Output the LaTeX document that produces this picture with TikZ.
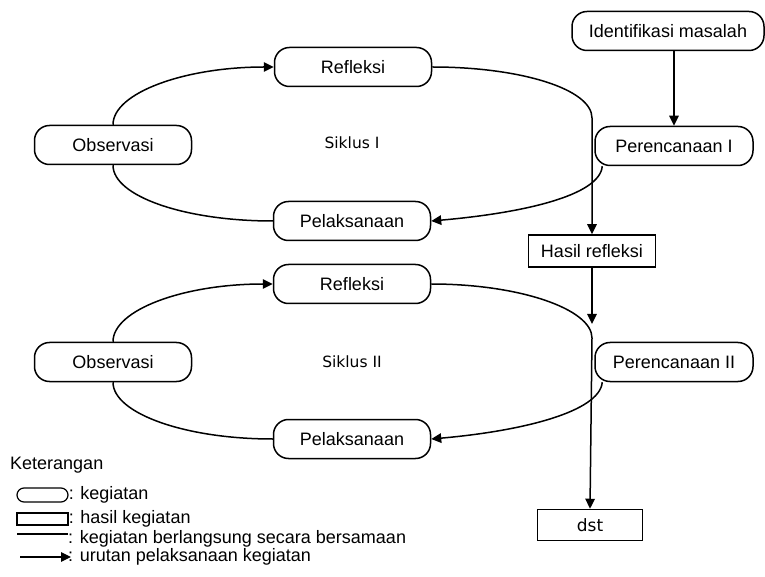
\documentclass[tikz,border=0pt]{standalone}
\usepackage{fontspec}
\setmainfont{Liberation Sans}
\newfontfamily\dejavu{DejaVu Sans}
\usetikzlibrary{arrows.meta}
\begin{document}
\begin{tikzpicture}[x=1pt,y=1pt,
 every node/.style={font=\fontsize{18}{20}\selectfont, inner sep=0pt},
 kegiatan/.style={draw, line width=1.5pt, rounded corners=15pt, minimum width=157pt, minimum height=39pt},
 hasilbox/.style={draw, line width=1.5pt, minimum height=32pt},
 siklus/.style={font=\dejavu\fontsize{15.5}{18}\selectfont},
 conn/.style={line width=1.5pt},
 arr/.style={conn, -{Triangle[length=10pt,width=9.5pt]}},
 lbl/.style={anchor=west}]
\useasboundingbox (0,0) rectangle (765,576);
\fill[white] (0,0) rectangle (765,576);
% Siklus I
\node[kegiatan] (ref1) at (353,509) {Refleksi};
\node[kegiatan] (obs1) at (113,431) {Observasi};
\node[siklus] (sik1) at (352,433) {Siklus I};
\node[kegiatan] (pel1) at (352,355) {Pelaksanaan};
\node[kegiatan, minimum width=192pt] (iden) at (668,545) {Identifikasi masalah};
\node[kegiatan, minimum width=158pt] (per1) at (674,430) {Perencanaan I};
\node[hasilbox, minimum width=127pt] (hasil) at (592,325) {Hasil refleksi};
\coordinate (j1) at (592,458);
% Siklus II
\node[kegiatan] (ref2) at (352,292) {Refleksi};
\node[kegiatan] (obs2) at (113,214) {Observasi};
\node[siklus] (sik2) at (352,214) {Siklus II};
\node[kegiatan] (pel2) at (352,137) {Pelaksanaan};
\node[kegiatan, minimum width=158pt] (per2) at (674,214) {Perencanaan II};
\node[hasilbox, minimum width=105pt, minimum height=31pt, font=\dejavu\fontsize{17}{19}\selectfont] (dst) at (590,51) {dst};
\coordinate (j2) at (592,238);
\coordinate (a2) at (592,252);
% connectors I
\draw[arr] (obs1.north) to[out=90,in=180,out distance=32pt,in distance=89pt] (ref1.west);
\draw[conn] (obs1.south) to[out=-90,in=180,out distance=31pt,in distance=88pt] (pel1.west);
\draw[arr] (ref1.east) to[out=0,in=90,out distance=88pt,in distance=29pt] (j1) -- (hasil.north);
\draw[arr] ([xshift=8pt]per1.south west) to[out=-95,in=5,out distance=30pt,in distance=90pt] (pel1.east);
\draw[arr] (per1.north |- iden.south) -- (per1.north);
% connectors II
\draw[arr] (hasil.south) -- (a2);
\draw[arr] (obs2.north) to[out=90,in=180,out distance=32pt,in distance=89pt] (ref2.west);
\draw[conn] (obs2.south) to[out=-90,in=180,out distance=31pt,in distance=88pt] (pel2.west);
\draw[arr] (ref2.east) to[out=0,in=90,out distance=88pt,in distance=29pt] (j2) -- (dst.north);
\draw[arr] ([xshift=8pt]per2.south west) to[out=-95,in=5,out distance=30pt,in distance=90pt] (pel2.east);
% legend
\node[lbl] (ket) at (10,111) {Keterangan};
\node[draw, line width=1.2pt, rounded corners=7pt, minimum width=51pt, minimum height=14pt] (lk) at (42.5,81) {};
\node[lbl] (lkt) at (lk.east) {: kegiatan};
\node[draw, line width=1.2pt, minimum width=51pt, minimum height=12pt] (lh) at (42.5,57) {};
\node[lbl] (lht) at (lh.east) {: hasil kegiatan};
\node[lbl] (lbt) at (68,37) {: kegiatan berlangsung secara bersamaan};
\coordinate (lb0) at (17,42);
\draw[line width=1.2pt] (lb0) -- (lbt.west |- lb0);
\node[lbl] (lut) at (68,19) {: urutan pelaksanaan kegiatan};
\coordinate (lu0) at (20,19);
\draw[arr, line width=1.2pt] (lu0) -- ([xshift=3pt]lut.west);
\end{tikzpicture}
\end{document}
